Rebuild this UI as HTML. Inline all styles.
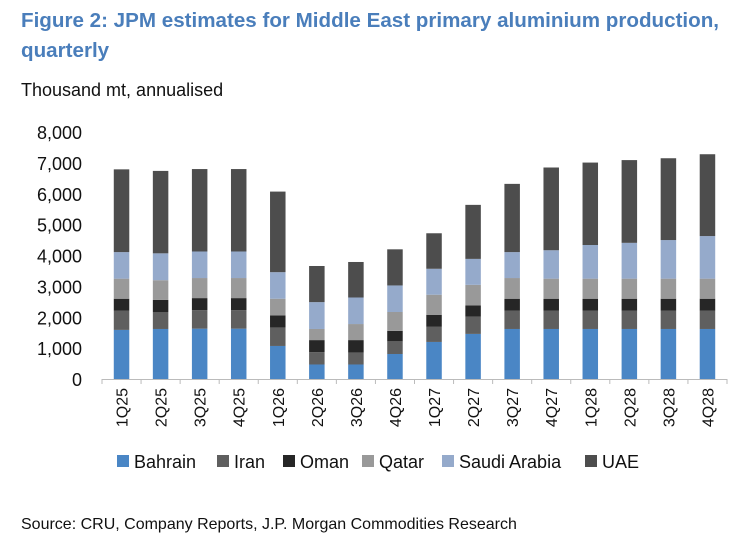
<!DOCTYPE html>
<html><head><meta charset="utf-8"><style>
body{margin:0;background:#fff;width:743px;height:547px;overflow:hidden;font-family:"Liberation Sans",Arial,sans-serif}
#title{position:absolute;left:21px;top:6px;width:715px;font-size:20.6px;font-weight:bold;color:#4a7ebb;line-height:30px}
#unit{position:absolute;left:21px;top:80px;font-size:18px;color:#111}
#src{position:absolute;left:21px;top:516px;font-size:16px;color:#111}
svg{position:absolute;left:0;top:0}
</style></head><body>
<div id="title">Figure 2: JPM estimates for Middle East primary aluminium production, quarterly</div>
<div id="unit">Thousand mt, annualised</div>
<svg id="chart" width="743" height="547"></svg>
<div id="src">Source: CRU, Company Reports, J.P. Morgan Commodities Research</div>
<script>
const categories=["1Q25","2Q25","3Q25","4Q25","1Q26","2Q26","3Q26","4Q26","1Q27","2Q27","3Q27","4Q27","1Q28","2Q28","3Q28","4Q28"];
const seriesNames=["Bahrain","Iran","Oman","Qatar","Saudi Arabia","UAE"];
const bahrain=[1590,1620,1630,1630,1070,470,470,810,1200,1460,1620,1620,1620,1620,1620,1620];
const iran=[620,550,600,600,600,400,390,410,490,560,590,590,590,590,590,590];
const oman=[390,390,390,390,390,390,400,340,390,360,390,390,390,390,390,390];
const qatar=[650,640,650,650,540,360,520,610,650,670,670,650,650,650,650,650];
const saudi=[860,870,860,860,860,870,860,860,840,840,840,920,1090,1160,1250,1380];
const uae=[2680,2670,2670,2670,2610,1170,1150,1170,1150,1750,2210,2680,2670,2680,2650,2650];
const yTicks=[0,1000,2000,3000,4000,5000,6000,7000,8000];
const colors=["#4a86c5","#5f5f5f","#262626","#999999","#95aacb","#4d4d4d"];
const series=[bahrain,iran,oman,qatar,saudi,uae];
const NS="http://www.w3.org/2000/svg",svg=document.getElementById('chart');
const x0=102,x1=727,y0=379,yTop=132,yMax=8000;
const band=(x1-x0)/categories.length;
const y=v=>y0-(v/yMax)*(y0-yTop);
const xc=i=>x0+band*(i+0.5);
function mk(t,a){const e=document.createElementNS(NS,t);for(const k in a)e.setAttribute(k,a[k]);svg.appendChild(e);return e;}
yTicks.forEach(t=>{const e=mk('text',{x:82,y:y(t)+7,'text-anchor':'end','font-size':18,fill:'#111'});e.textContent=t.toLocaleString('en-US');

});
categories.forEach((c,i)=>{let base=0;series.forEach((s,k)=>{const v=s[i];const r=mk('rect',{x:xc(i)-7.75,width:15.5,y:y(base+v),height:y(base)-y(base+v),fill:colors[k]});

base+=v;});
const t=mk('text',{x:0,y:0,'text-anchor':'end','font-size':16,fill:'#111',transform:`translate(${xc(i)+6},388) rotate(-90)`});t.textContent=c;

});
const ax=mk('line',{x1:x0,x2:x1,y1:y0+0.5,y2:y0+0.5,stroke:'#bbb','stroke-width':1});


for(let i=0;i<=categories.length;i++){const tk=mk('line',{x1:x0+band*i,x2:x0+band*i,y1:y0,y2:y0+5,stroke:'#bbb'});

}
const lx=[117,217,283,362,442,585];
seriesNames.forEach((n,k)=>{const r=mk('rect',{x:lx[k],y:455,width:12,height:12,fill:colors[k]});


const t=mk('text',{x:lx[k]+17,y:468,'font-size':18,fill:'#111'});t.textContent=n;

});
</script>
</body></html>
